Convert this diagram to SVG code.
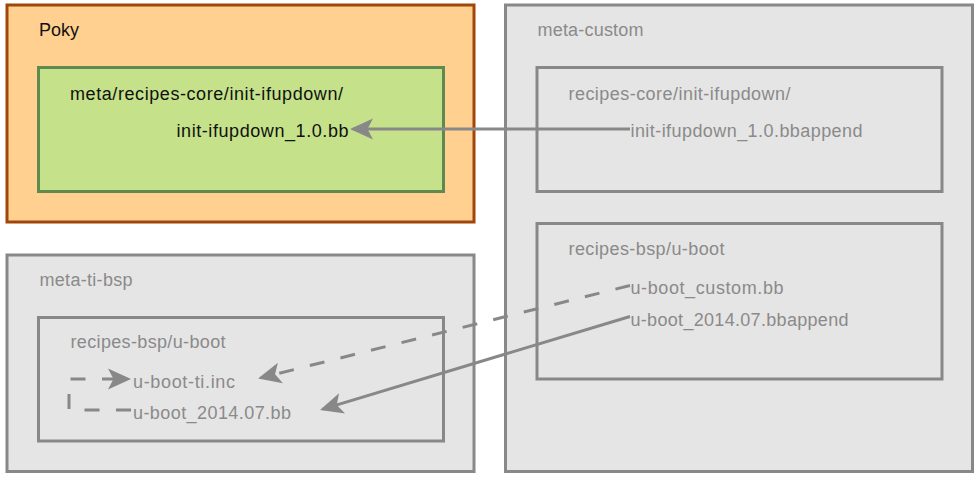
<svg xmlns="http://www.w3.org/2000/svg" width="980" height="479" viewBox="0 0 980 479">
<style>
  .t { font-family: "Liberation Sans", "DejaVu Sans", sans-serif; font-size: 18px; }
  .dk { fill: #111111; }
  .gr { fill: #8a8a8a; }
  .gbox { fill: #e5e5e5; stroke: #888888; stroke-width: 3; }
  .ibox { fill: none; stroke: #888888; stroke-width: 3; }
  .conn { fill: none; stroke: #888888; stroke-width: 3; }
  .dash { stroke-dasharray: 15 16.5; }
</style>
<defs>
  <marker id="ah" markerUnits="userSpaceOnUse" viewBox="-22 -12 27 24" markerWidth="27" markerHeight="24" refX="0" refY="0" orient="auto" overflow="visible">
    <path d="M3,0 L-20,-10.5 L-14.5,0 L-20,10.5 Z" fill="#888888"/>
  </marker>
</defs>
<rect width="980" height="479" fill="#ffffff"/>

<g id="poky">
  <rect x="7" y="5" width="467" height="217" fill="#ffd08f" stroke="#a0460a" stroke-width="3"/>
  <text class="t dk" x="39" y="36" textLength="40">Poky</text>
</g>
<g id="poky-init-ifupdown">
  <rect x="38.5" y="67.5" width="405" height="124" fill="#c5e28a" stroke="#5f8a4f" stroke-width="3"/>
  <text class="t dk" x="70" y="99.5" textLength="273">meta/recipes-core/init-ifupdown/</text>
  <text class="t dk" x="176.5" y="137" textLength="172">init-ifupdown_1.0.bb</text>
</g>

<g id="meta-custom">
  <rect class="gbox" x="505.5" y="5" width="467" height="466.5"/>
  <text class="t gr" x="537.5" y="36" textLength="106">meta-custom</text>
</g>
<g id="custom-init-ifupdown">
  <rect class="ibox" x="537" y="67.5" width="405" height="124"/>
  <text class="t gr" x="568.5" y="99.5" textLength="222">recipes-core/init-ifupdown/</text>
  <text class="t gr" x="630.5" y="137" textLength="232">init-ifupdown_1.0.bbappend</text>
</g>
<g id="custom-u-boot">
  <rect class="ibox" x="537" y="223.5" width="405" height="155.5"/>
  <text class="t gr" x="568.5" y="254.5" textLength="156">recipes-bsp/u-boot</text>
  <text class="t gr" x="630.5" y="294" textLength="153">u-boot_custom.bb</text>
  <text class="t gr" x="630.5" y="325.5" textLength="218">u-boot_2014.07.bbappend</text>
</g>

<g id="meta-ti-bsp">
  <rect class="gbox" x="7" y="255" width="467" height="216.5"/>
  <text class="t gr" x="39.5" y="285.5" textLength="93">meta-ti-bsp</text>
</g>
<g id="ti-u-boot">
  <rect class="ibox" x="38.5" y="317.5" width="405" height="123.5"/>
  <text class="t gr" x="70.5" y="348" textLength="155">recipes-bsp/u-boot</text>
  <text class="t gr" x="133" y="388" textLength="102">u-boot-ti.inc</text>
  <text class="t gr" x="133" y="418.5" textLength="158">u-boot_2014.07.bb</text>
</g>

<g id="connectors">
  <line class="conn" x1="630" y1="129" x2="353" y2="129" marker-end="url(#ah)"/>
  <line class="conn dash" x1="630" y1="285.5" x2="261" y2="377.8" marker-end="url(#ah)"/>
  <line class="conn" x1="630" y1="316.5" x2="322.9" y2="409.1" marker-end="url(#ah)"/>
  <path class="conn dash" style="stroke-dashoffset:-2" d="M133,410 H69 V379 H128" marker-end="url(#ah)"/>
</g>
</svg>
